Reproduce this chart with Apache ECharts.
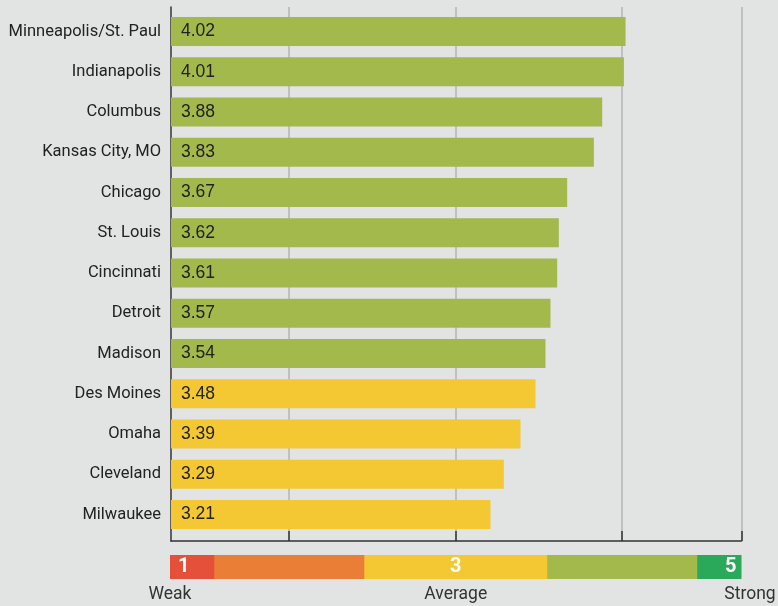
<!DOCTYPE html>
<html>
<head>
<meta charset="utf-8">
<title>Scores by metro</title>
<script src="https://cdn.jsdelivr.net/npm/echarts@6/dist/echarts.min.js"></script>
<style>
  html, body { margin: 0; padding: 0; background: #e2e3e3; }
  #chart { width: 778px; height: 606px; }
</style>
</head>
<body>
<div id="chart"></div>
<script>
// data
var cities = ["Minneapolis/St. Paul", "Indianapolis", "Columbus", "Kansas City, MO", "Chicago",
  "St. Louis", "Cincinnati", "Detroit", "Madison", "Des Moines", "Omaha", "Cleveland", "Milwaukee"];
var scores = [4.02, 4.01, 3.88, 3.83, 3.67, 3.62, 3.61, 3.57, 3.54, 3.48, 3.39, 3.29, 3.21];
var gridTicks = [2, 3, 4];
var greenFrom = 3.5;            // scores at or above this are green
var scaleStops = [1.31, 2.36, 3.64, 4.69, 5];  // right edge of each colour band in the key
var scaleNumbers = ["1", "3", "5"];
var scaleWords = ["Weak", "Average", "Strong"];

var X_MIN = 1.295, X_MAX = 4.715;
var labelFont = "Roboto, sans-serif";
var scaleColors = ["#e4503a", "#eb7e37", "#f4c832", "#a4b94c", "#2aa95a"];

var myChart = echarts.init(document.getElementById("chart"));

// key bars: widest first so the narrower ones sit on top
var scaleSeries = [];
for (var i = scaleStops.length - 1; i >= 0; i--) {
  scaleSeries.push({
    type: "bar",
    xAxisIndex: 2,
    yAxisIndex: 2,
    data: [scaleStops[i]],
    barWidth: 24,
    barGap: "-100%",
    silent: true,
    itemStyle: { color: scaleColors[i] }
  });
}

var option = {
  backgroundColor: "#e2e3e3",
  animation: false,
  grid: [
    { left: 171, right: 36.5, top: 7, bottom: 65, outerBoundsMode: "none" },      // frame, gridlines
    { left: 171, right: 36.5, top: 11.5, bottom: 71.5, outerBoundsMode: "none" }, // bars
    { left: 170, right: 36.5, top: 555, height: 24, outerBoundsMode: "none" }     // colour key
  ],
  xAxis: [
    {
      gridIndex: 0,
      type: "value",
      min: X_MIN,
      max: X_MAX,
      axisLine: { show: true, onZero: false, lineStyle: { color: "#333", width: 1.5 } },
      axisTick: {
        show: true,
        inside: true,
        length: 10,
        customValues: gridTicks.concat([X_MAX]),
        lineStyle: { color: "#333", width: 1.5 }
      },
      axisLabel: { show: false },
      splitLine: { show: true, lineStyle: { color: "#b4b4b4", width: 1.5 } }
    },
    { gridIndex: 1, type: "value", min: X_MIN, max: X_MAX, show: false },
    {
      gridIndex: 2,
      type: "value",
      min: 1,
      max: 5,
      interval: 2,
      position: "bottom",
      axisLine: { show: false },
      axisTick: { show: false },
      splitLine: { show: false },
      axisLabel: {
        margin: 7,
        formatter: function (v) {
          var w = scaleWords[Math.round((v - 1) / 2)];
          return v === 5 ? "{s|" + w + "}" : "{w|" + w + "}";
        },
        rich: {
          w: { fontFamily: labelFont, fontSize: 17.5, color: "#333" },
          s: { fontFamily: labelFont, fontSize: 17.5, color: "#333", padding: [0, 0, 0, 17] }
        }
      }
    },
    {
      gridIndex: 2,
      type: "value",
      min: 1,
      max: 5,
      interval: 2,
      position: "bottom",
      z: 10,
      axisLine: { show: false },
      axisTick: { show: false },
      splitLine: { show: false },
      axisLabel: {
        inside: true,
        margin: 12,
        verticalAlign: "middle",
        alignMinLabel: "left",
        alignMaxLabel: "right",
        formatter: function (v) {
          var n = scaleNumbers[Math.round((v - 1) / 2)];
          if (v === 1) return "{a|" + n + "}";
          if (v === 5) return "{b|" + n + "}";
          return "{c|" + n + "}";
        },
        rich: {
          a: { fontFamily: labelFont, fontSize: 20, fontWeight: "bold", color: "#fff", padding: [0, 0, 0, 8] },
          b: { fontFamily: labelFont, fontSize: 20, fontWeight: "bold", color: "#fff", padding: [0, 5, 0, 0] },
          c: { fontFamily: labelFont, fontSize: 20, fontWeight: "bold", color: "#fff" }
        }
      }
    }
  ],
  yAxis: [
    {
      gridIndex: 0,
      type: "value",
      min: 0,
      max: 1,
      axisLine: { show: true, onZero: false, lineStyle: { color: "#333", width: 1.5 } },
      axisTick: { show: false },
      axisLabel: { show: false },
      splitLine: { show: false }
    },
    {
      gridIndex: 1,
      type: "category",
      data: cities,
      inverse: true,
      axisLine: { show: false },
      axisTick: { show: false },
      axisLabel: { margin: 10, fontFamily: labelFont, fontSize: 16.5, color: "#222" }
    },
    { gridIndex: 2, type: "category", data: ["key"], show: false }
  ],
  series: [
    {
      name: "Score",
      type: "bar",
      xAxisIndex: 1,
      yAxisIndex: 1,
      data: scores,
      barWidth: 29,
      itemStyle: {
        color: function (p) {
          return p.value >= greenFrom ? "#a4b94c" : "#f4c832";
        }
      },
      label: {
        show: true,
        position: "insideLeft",
        distance: 10,
        formatter: function (p) { return p.value.toFixed(2); },
        color: "#222",
        fontFamily: "Liberation Sans, Arial, sans-serif",
        fontSize: 17.5
      }
    }
  ].concat(scaleSeries)
};

myChart.setOption(option);
</script>
</body>
</html>
